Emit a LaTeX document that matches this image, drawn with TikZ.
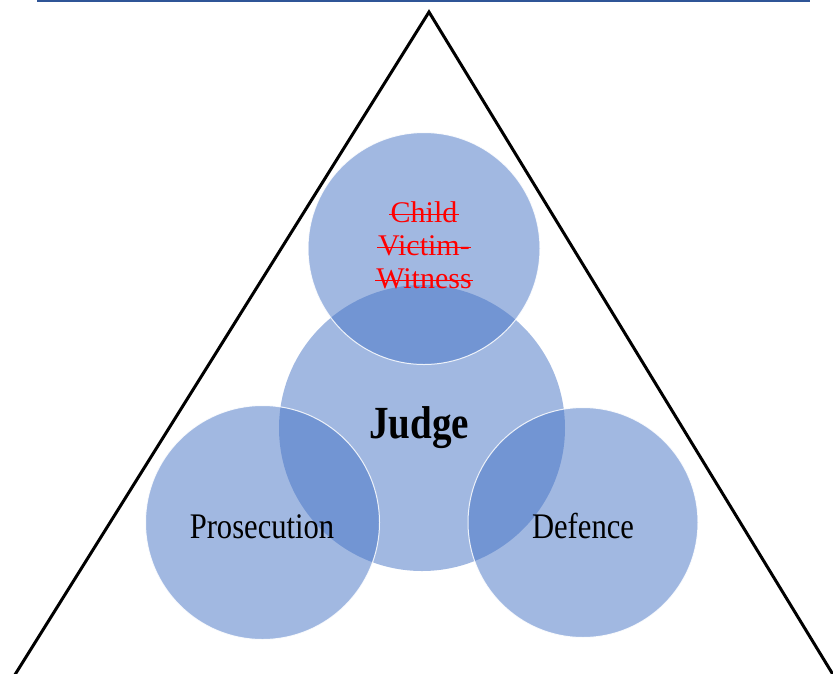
\documentclass[tikz,border=0pt]{standalone}
\usepackage{fontspec}
\setmainfont{Liberation Serif}
\newfontfamily\narrowserif[FakeStretch=0.85]{Liberation Serif}
\definecolor{venn}{HTML}{4472C4}
\definecolor{topline}{HTML}{2F5597}
\begin{document}
\begin{tikzpicture}[x=1pt,y=-1pt,
  venncircle/.style={circle, inner sep=0pt, fill=venn, fill opacity=0.5,
    draw=white, draw opacity=0.85, line width=1pt},
  blacklabel/.style={anchor=base, text=black, inner sep=0pt},
  struck/.style={anchor=base, text=red, inner sep=0pt,
    font=\fontsize{30}{33}\selectfont},
  strikeline/.style={red, line width=1.8pt}]
\useasboundingbox (0,0) rectangle (833,673);
\clip (0,0) rectangle (833,673);

% header rule
\coordinate (ruleL) at (37,1);
\coordinate (ruleR) at (810,1);
\draw[topline, line width=2pt] (ruleL) -- (ruleR);

% triangle sides
\coordinate (apex) at (429,12);
\coordinate (baseL) at (5.4,690);
\coordinate (baseR) at (842.4,690);
\draw[black, line width=3pt, line join=miter] (baseL) -- (apex) -- (baseR);

% overlapping circles
\node[venncircle, draw=none, minimum size=286pt] (judge) at (422,428) {};
\node[venncircle, minimum size=232pt] (witness) at (424,248.5) {};
\node[venncircle, minimum size=234pt] (prosecution) at (262.5,522.5) {};
\node[venncircle, minimum size=230pt] (defence) at (583,522.5) {};

% struck-through words
\node[struck] (child) at (424,222) {Child};
\node[struck] (victim) at (424,255) {Victim-};
\node[struck] (witnessword) at (424,288) {Witness};
\foreach \w in {child,victim,witnessword}
  \draw[strikeline] ([xshift=-1pt,yshift=7.5pt]\w.base west) -- ([xshift=1pt,yshift=7.5pt]\w.base east);

% labels
\node[blacklabel, font=\narrowserif\bfseries\fontsize{46}{50}\selectfont] (judgetext) at (419,438) {Judge};
\node[blacklabel, font=\narrowserif\fontsize{36}{40}\selectfont] (prosecutiontext) at (262,538) {Prosecution};
\node[blacklabel, font=\narrowserif\fontsize{36}{40}\selectfont] (defencetext) at (583,538) {Defence};
\end{tikzpicture}
\end{document}
